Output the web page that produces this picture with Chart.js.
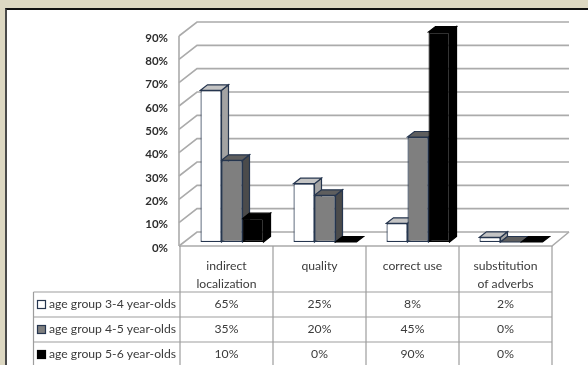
<!DOCTYPE html>
<html>
<head>
<meta charset="utf-8">
<script src="https://cdn.jsdelivr.net/npm/chart.js@4"></script>
<style>
  html, body { margin: 0; padding: 0; width: 588px; height: 365px; overflow: hidden; background: #ddd8c2; }
  #frame { position: absolute; left: 5px; top: 8px; width: 620px; height: 400px; background: #fff;
           border-left: 2px solid #4a4a4a; border-top: 2px solid #111; }
  #c { position: absolute; left: 0; top: 0; }
</style>
</head>
<body>
<div id="frame"></div>
<canvas id="c" width="588" height="365"></canvas>
<script>
// Categories (multi-line header labels) and series
const categories = [['indirect', 'localization'], ['quality'], ['correct use'], ['substitution', 'of adverbs']];
const seriesNames = ['age group 3-4 year-olds', 'age group 4-5 year-olds', 'age group 5-6 year-olds'];
const group34 = [65, 25, 8, 2];
const group45 = [35, 20, 45, 0];
const group56 = [10, 0, 90, 0];
const yTickValues = [0, 10, 20, 30, 40, 50, 60, 70, 80, 90];

// Face colours for each series: front, top, side, edge
const palette = [
  { front: '#ffffff', top: '#c4c4c4', side: '#a3a3a3', edge: '#26364f' },
  { front: '#7f7f7f', top: '#5e5e5e', side: '#4b4b4b', edge: '#26364f' },
  { front: '#000000', top: '#000000', side: '#000000', edge: '#000000' }
];

const BAR_DX = 7, BAR_DY = -5.5;      // depth of each column
const WALL_FRONT_DX = -6.5, WALL_BACK_DX = 11.5;
const WALL_FRONT_DY = 4, WALL_BACK_DY = -10;
const GROUP_SHIFT = 5.5;              // columns sit right of the table cells in projection
const TABLE_FONT = '12.2px Lato';

function poly(ctx, pts, fill, stroke) {
  ctx.beginPath();
  ctx.moveTo(pts[0][0], pts[0][1]);
  for (let i = 1; i < pts.length; i++) ctx.lineTo(pts[i][0], pts[i][1]);
  ctx.closePath();
  ctx.fillStyle = fill; ctx.fill();
  ctx.strokeStyle = stroke; ctx.lineWidth = 1.2; ctx.stroke();
}

// Back wall, side wall, floor and the depth faces of the columns
const depthPlugin = {
  id: 'depth3d',
  beforeDatasetsDraw(chart) {
    const { ctx, chartArea: a, scales: { y } } = chart;
    const fx = a.left + WALL_FRONT_DX, bx = a.left + WALL_BACK_DX;
    const rx = a.right + WALL_BACK_DX, frx = a.right - GROUP_SHIFT;
    ctx.save();
    ctx.strokeStyle = '#ababab';
    ctx.lineWidth = 1.6;
    yTickValues.forEach(v => {
      const p = y.getPixelForValue(v);
      ctx.beginPath();
      ctx.moveTo(fx, p + WALL_FRONT_DY);
      ctx.lineTo(bx, p + WALL_BACK_DY);
      ctx.lineTo(rx, p + WALL_BACK_DY);
      ctx.stroke();
    });
    const p0 = y.getPixelForValue(0);
    const pTop = y.getPixelForValue(yTickValues[yTickValues.length - 1]);
    ctx.beginPath();
    ctx.moveTo(fx, p0 + WALL_FRONT_DY);
    ctx.lineTo(frx, p0 + WALL_FRONT_DY);
    ctx.lineTo(rx, p0 + WALL_BACK_DY);
    ctx.stroke();
    ctx.beginPath();
    ctx.moveTo(fx, pTop + WALL_FRONT_DY);
    ctx.lineTo(fx, p0 + WALL_FRONT_DY);
    ctx.stroke();

    chart.data.datasets.forEach((ds, i) => {
      const meta = chart.getDatasetMeta(i);
      const c = palette[i];
      meta.data.forEach(bar => {
        const { x, y: top, base, width } = bar.getProps(['x', 'y', 'base', 'width'], true);
        const x0 = x - width / 2, x1 = x + width / 2;
        if (base - top > 0.5) {
          poly(ctx, [[x1, top], [x1 + BAR_DX, top + BAR_DY], [x1 + BAR_DX, base + BAR_DY], [x1, base]], c.side, c.edge);
        }
        poly(ctx, [[x0, top], [x0 + BAR_DX, top + BAR_DY], [x1 + BAR_DX, top + BAR_DY], [x1, top]], c.top, c.edge);
      });
    });
    ctx.restore();
  }
};

// Data table under the plot
const tablePlugin = {
  id: 'dataTable',
  afterDraw(chart) {
    const { ctx, chartArea: a, scales: { x, y } } = chart;
    const colW = (a.right - a.left) / categories.length;
    const tableTop = y.getPixelForValue(0) + WALL_FRONT_DY;
    const headH = 46, rowH = 25, legendLeft = 33.5;
    const edges = categories.map((_, i) => x.getPixelForValue(i) - GROUP_SHIFT - colW / 2);
    edges.push(edges[edges.length - 1] + colW);
    const rows = [group34, group45, group56];
    const bottom = tableTop + headH + rowH * rows.length;

    ctx.save();
    ctx.strokeStyle = '#9d9d9d';
    ctx.lineWidth = 1.2;
    edges.forEach(ex => {
      ctx.beginPath(); ctx.moveTo(ex, tableTop); ctx.lineTo(ex, bottom); ctx.stroke();
    });
    ctx.beginPath(); ctx.moveTo(legendLeft, tableTop + headH); ctx.lineTo(legendLeft, bottom); ctx.stroke();
    for (let r = 0; r <= rows.length; r++) {
      const ry = tableTop + headH + r * rowH;
      ctx.beginPath(); ctx.moveTo(legendLeft, ry); ctx.lineTo(edges[edges.length - 1], ry); ctx.stroke();
    }

    ctx.fillStyle = '#3b3b3b';
    ctx.font = TABLE_FONT;
    ctx.textAlign = 'center';
    ctx.textBaseline = 'middle';
    categories.forEach((lines, i) => {
      const cx = (edges[i] + edges[i + 1]) / 2;
      lines.forEach((t, k) => ctx.fillText(t, cx, tableTop + 20 + k * 17.6));
    });
    rows.forEach((vals, r) => {
      const cy = tableTop + headH + r * rowH + rowH / 2;
      vals.forEach((v, i) => ctx.fillText(v + '%', (edges[i] + edges[i + 1]) / 2, cy));
      const c = palette[r];
      ctx.fillStyle = c.front;
      ctx.fillRect(37.5, cy - 4, 8, 8);
      ctx.strokeStyle = c.edge;
      ctx.lineWidth = 1.2;
      ctx.strokeRect(37.5, cy - 4, 8, 8);
      ctx.fillStyle = '#3b3b3b';
      ctx.textAlign = 'left';
      ctx.fillText(seriesNames[r], 49, cy);
      ctx.textAlign = 'center';
    });
    ctx.restore();
  }
};

const datasets = [group34, group45, group56].map((vals, i) => ({
  label: seriesNames[i],
  data: vals,
  backgroundColor: palette[i].front,
  borderColor: palette[i].edge,
  borderWidth: 1.2,
  borderSkipped: false,
  categoryPercentage: 0.678,
  barPercentage: 1
}));

new Chart(document.getElementById('c'), {
  type: 'bar',
  data: { labels: categories, datasets },
  options: {
    responsive: false,
    animation: false,
    events: [],
    layout: { padding: { top: 32, bottom: 123, left: 0, right: 30.5 } },
    plugins: { legend: { display: false }, tooltip: { enabled: false } },
    scales: {
      x: { display: false },
      y: {
        min: 0, max: 90,
        afterBuildTicks(scale) { scale.ticks = yTickValues.map(v => ({ value: v })); },
        afterFit(scale) { scale.width = 185.5; },
        grid: { display: false, drawTicks: false },
        border: { display: false },
        ticks: {
          padding: 17.5,
          labelOffset: 6,
          color: '#2e2e2e',
          font: { family: 'Lato', size: 11.5, weight: 'bold' },
          callback: v => v + '%'
        }
      }
    }
  },
  plugins: [depthPlugin, tablePlugin]
});
</script>
</body>
</html>
